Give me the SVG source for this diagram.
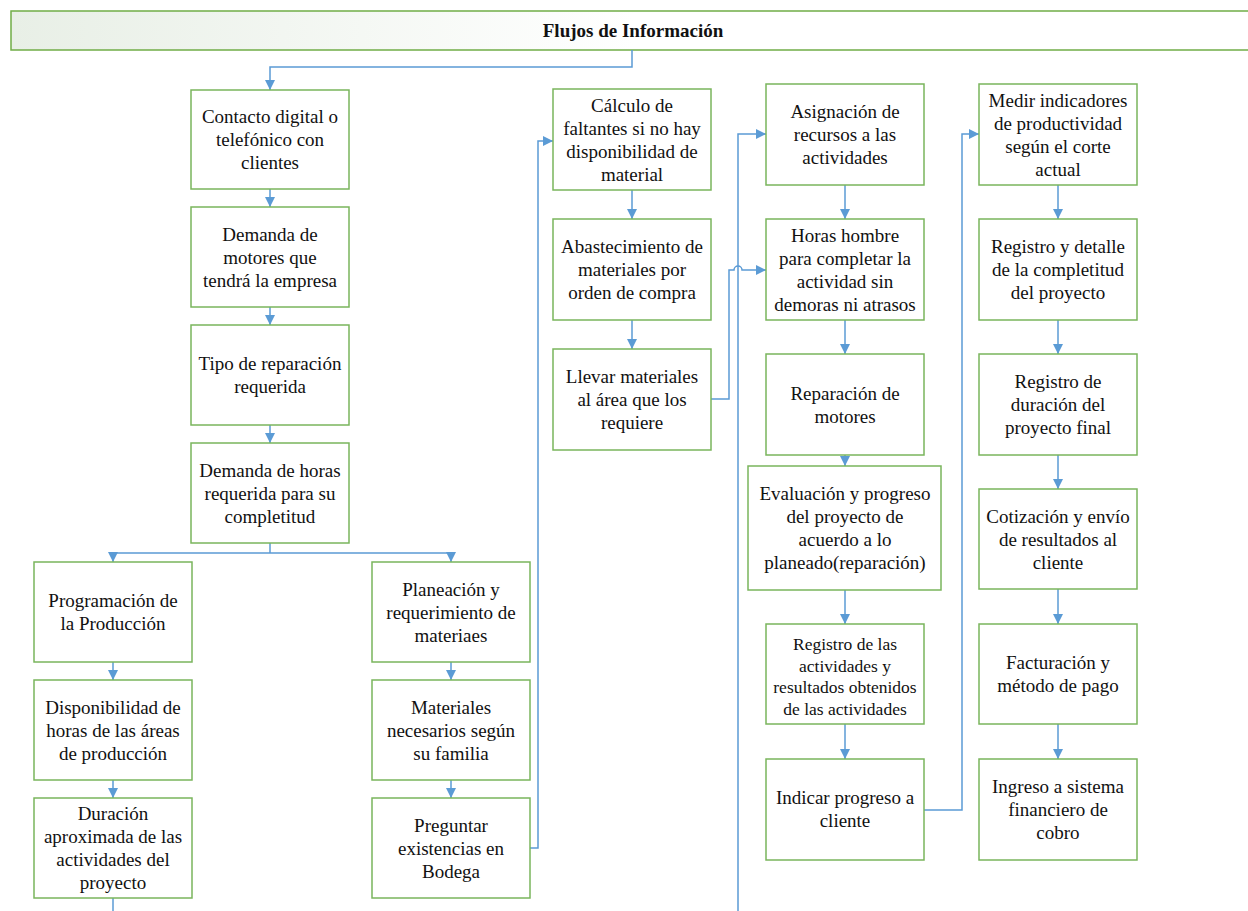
<svg xmlns="http://www.w3.org/2000/svg" width="1248" height="911" viewBox="0 0 1248 911">
<style>
.box{fill:#fff;stroke:#7AB55C;stroke-width:1.5}
.t{font-family:"Liberation Serif","Times New Roman",serif;font-size:19px;fill:#111;text-anchor:middle}
.s{font-size:17.5px}
.c{fill:none;stroke:#5B9BD5;stroke-width:1.5}
.a{marker-end:url(#ar)}
</style>
<defs>
<marker id="ar" markerUnits="userSpaceOnUse" markerWidth="10" markerHeight="10" refX="10" refY="5" orient="auto">
<path d="M0,0 L10,5 L0,10 z" fill="#5B9BD5"/>
</marker>
<linearGradient id="tg" x1="0" y1="0" x2="1" y2="0">
<stop offset="0" stop-color="#E8EFE6"/>
<stop offset="0.5" stop-color="#FFFFFF"/>
<stop offset="1" stop-color="#FFFFFF"/>
</linearGradient>
</defs>
<g id="title">
<rect x="11" y="11" width="1245" height="39" fill="url(#tg)" stroke="#70AD47" stroke-width="1.5"/>
<text class="t" x="633" y="37" font-weight="bold" font-size="18.5px">Flujos de Información</text>
</g>
<g id="connectors">
<path class="c a" d="M632,50 V67 H270 V90"/>
<path class="c a" d="M270,189 V207"/>
<path class="c a" d="M270,307 V325"/>
<path class="c a" d="M270,425 V443"/>
<path class="c" d="M270,543 V553"/>
<path class="c a" d="M270,553 H113 V562"/>
<path class="c a" d="M270,553 H451 V562"/>
<path class="c a" d="M113,662 V680"/>
<path class="c a" d="M113,780 V798"/>
<path class="c" d="M113,898 V911"/>
<path class="c a" d="M451,662 V680"/>
<path class="c a" d="M451,780 V798"/>
<path class="c a" d="M530,848 H538 V141 H553"/>
<path class="c a" d="M632,190 V219"/>
<path class="c a" d="M632,320 V349"/>
<path class="c a" d="M711,399 H729 V270 H734 A4,4 0 0 1 742,270 H766"/>
<path class="c a" d="M738,911 V134 H766"/>
<path class="c a" d="M845,185 V219"/>
<path class="c a" d="M845,320 V354"/>
<path class="c a" d="M845,455 V466"/>
<path class="c a" d="M845,590 V624"/>
<path class="c a" d="M845,724 V759"/>
<path class="c a" d="M924,810 H962 V134 H979"/>
<path class="c a" d="M1058,185 V219"/>
<path class="c a" d="M1058,320 V354"/>
<path class="c a" d="M1058,455 V489"/>
<path class="c a" d="M1058,589 V624"/>
<path class="c a" d="M1058,724 V759"/>
</g>
<g id="n1"><rect class="box" x="191" y="90" width="158" height="99"/>
<text class="t"><tspan x="270" y="123">Contacto digital o</tspan><tspan x="270" y="146">telefónico con</tspan><tspan x="270" y="169">clientes</tspan></text></g>
<g id="n2"><rect class="box" x="191" y="207" width="158" height="100"/>
<text class="t"><tspan x="270" y="240.5">Demanda de</tspan><tspan x="270" y="263.5">motores que</tspan><tspan x="270" y="286.5">tendrá la empresa</tspan></text></g>
<g id="n3"><rect class="box" x="191" y="325" width="158" height="100"/>
<text class="t"><tspan x="270" y="370">Tipo de reparación</tspan><tspan x="270" y="393">requerida</tspan></text></g>
<g id="n4"><rect class="box" x="191" y="443" width="158" height="100"/>
<text class="t"><tspan x="270" y="476.5">Demanda de horas</tspan><tspan x="270" y="499.5">requerida para su</tspan><tspan x="270" y="522.5">completitud</tspan></text></g>
<g id="n5"><rect class="box" x="34" y="562" width="158" height="100"/>
<text class="t"><tspan x="113" y="607">Programación de</tspan><tspan x="113" y="630">la Producción</tspan></text></g>
<g id="n6"><rect class="box" x="34" y="680" width="158" height="100"/>
<text class="t"><tspan x="113" y="713.5">Disponibilidad de</tspan><tspan x="113" y="736.5">horas de las áreas</tspan><tspan x="113" y="759.5">de producción</tspan></text></g>
<g id="n7"><rect class="box" x="34" y="798" width="158" height="100"/>
<text class="t"><tspan x="113" y="820">Duración</tspan><tspan x="113" y="843">aproximada de las</tspan><tspan x="113" y="866">actividades del</tspan><tspan x="113" y="889">proyecto</tspan></text></g>
<g id="n8"><rect class="box" x="372" y="562" width="158" height="100"/>
<text class="t"><tspan x="451" y="595.5">Planeación y</tspan><tspan x="451" y="618.5">requerimiento de</tspan><tspan x="451" y="641.5">materiaes</tspan></text></g>
<g id="n9"><rect class="box" x="372" y="680" width="158" height="100"/>
<text class="t"><tspan x="451" y="713.5">Materiales</tspan><tspan x="451" y="736.5">necesarios según</tspan><tspan x="451" y="759.5">su familia</tspan></text></g>
<g id="n10"><rect class="box" x="372" y="798" width="158" height="100"/>
<text class="t"><tspan x="451" y="831.5">Preguntar</tspan><tspan x="451" y="854.5">existencias en</tspan><tspan x="451" y="877.5">Bodega</tspan></text></g>
<g id="n11"><rect class="box" x="553" y="89" width="158" height="101"/>
<text class="t"><tspan x="632" y="111.5">Cálculo de</tspan><tspan x="632" y="134.5">faltantes si no hay</tspan><tspan x="632" y="157.5">disponibilidad de</tspan><tspan x="632" y="180.5">material</tspan></text></g>
<g id="n12"><rect class="box" x="553" y="219" width="158" height="101"/>
<text class="t"><tspan x="632" y="253">Abastecimiento de</tspan><tspan x="632" y="276">materiales por</tspan><tspan x="632" y="299">orden de compra</tspan></text></g>
<g id="n13"><rect class="box" x="553" y="349" width="158" height="101"/>
<text class="t"><tspan x="632" y="383">Llevar materiales</tspan><tspan x="632" y="406">al área que los</tspan><tspan x="632" y="429">requiere</tspan></text></g>
<g id="n14"><rect class="box" x="766" y="84" width="158" height="101"/>
<text class="t"><tspan x="845" y="118">Asignación de</tspan><tspan x="845" y="141">recursos a las</tspan><tspan x="845" y="164">actividades</tspan></text></g>
<g id="n15"><rect class="box" x="766" y="219" width="158" height="101"/>
<text class="t"><tspan x="845" y="241.5">Horas hombre</tspan><tspan x="845" y="264.5">para completar la</tspan><tspan x="845" y="287.5">actividad sin</tspan><tspan x="845" y="310.5">demoras ni atrasos</tspan></text></g>
<g id="n16"><rect class="box" x="766" y="354" width="158" height="101"/>
<text class="t"><tspan x="845" y="399.5">Reparación de</tspan><tspan x="845" y="422.5">motores</tspan></text></g>
<g id="n17"><rect class="box" x="748" y="466" width="193" height="124"/>
<text class="t"><tspan x="845" y="500">Evaluación y progreso</tspan><tspan x="845" y="523">del proyecto de</tspan><tspan x="845" y="546">acuerdo a lo</tspan><tspan x="845" y="569">planeado(reparación)</tspan></text></g>
<g id="n18"><rect class="box" x="766" y="624" width="158" height="100"/>
<text class="t s"><tspan x="845" y="650">Registro de las</tspan><tspan x="845" y="671.5">actividades y</tspan><tspan x="845" y="693">resultados obtenidos</tspan><tspan x="845" y="714.5">de las actividades</tspan></text></g>
<g id="n19"><rect class="box" x="766" y="759" width="158" height="101"/>
<text class="t"><tspan x="845" y="804">Indicar progreso a</tspan><tspan x="845" y="827">cliente</tspan></text></g>
<g id="n20"><rect class="box" x="979" y="84" width="158" height="101"/>
<text class="t"><tspan x="1058" y="106.5">Medir indicadores</tspan><tspan x="1058" y="129.5">de productividad</tspan><tspan x="1058" y="152.5">según el corte</tspan><tspan x="1058" y="175.5">actual</tspan></text></g>
<g id="n21"><rect class="box" x="979" y="219" width="158" height="101"/>
<text class="t"><tspan x="1058" y="253">Registro y detalle</tspan><tspan x="1058" y="276">de la completitud</tspan><tspan x="1058" y="299">del proyecto</tspan></text></g>
<g id="n22"><rect class="box" x="979" y="354" width="158" height="101"/>
<text class="t"><tspan x="1058" y="388">Registro de</tspan><tspan x="1058" y="411">duración del</tspan><tspan x="1058" y="434">proyecto final</tspan></text></g>
<g id="n23"><rect class="box" x="979" y="489" width="158" height="100"/>
<text class="t"><tspan x="1058" y="522.5">Cotización y envío</tspan><tspan x="1058" y="545.5">de resultados al</tspan><tspan x="1058" y="568.5">cliente</tspan></text></g>
<g id="n24"><rect class="box" x="979" y="624" width="158" height="100"/>
<text class="t"><tspan x="1058" y="669">Facturación y</tspan><tspan x="1058" y="692">método de pago</tspan></text></g>
<g id="n25"><rect class="box" x="979" y="759" width="158" height="101"/>
<text class="t"><tspan x="1058" y="792.5">Ingreso a sistema</tspan><tspan x="1058" y="815.5">financiero de</tspan><tspan x="1058" y="838.5">cobro</tspan></text></g>
</svg>
